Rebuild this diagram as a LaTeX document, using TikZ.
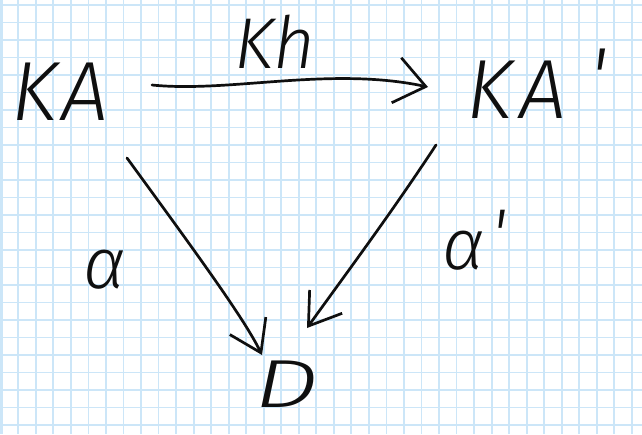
\documentclass[tikz,border=0pt]{standalone}
\usepackage{fontspec}
\newfontfamily\handfont{Fira Sans}[UprightFont={* Light}, ItalicFont={* Light Italic}]
\usetikzlibrary{arrows.meta}
\definecolor{gridblue}{RGB}{204,230,248}
\definecolor{ink}{RGB}{15,15,15}
\begin{document}
\begin{tikzpicture}[x=1pt,y=-1pt,
  gridline/.style={draw=gridblue, line width=1.8pt},
  big/.style={font=\handfont\itshape\fontsize{84}{84}\selectfont, text=ink, inner sep=0pt},
  mid/.style={font=\handfont\itshape\fontsize{72}{72}\selectfont, text=ink, inner sep=0pt},
  stroke/.style={draw=ink, line width=2.7pt, line cap=round, line join=round},
  barbtop/.style={-{Straight Barb[length=30pt,width=46pt,line width=2.7pt]}},
  barbdiag/.style={-{Straight Barb[length=30pt,width=40pt,line width=2.7pt]}}
]
\useasboundingbox (0,0) rectangle (642,434);
\fill[white] (0,0) rectangle (642,434);
% grid paper
\foreach \i in {0,...,35} \draw[gridline] ({18.3+17.53*\i},0) -- ({18.3+17.53*\i},434);
\foreach \j in {0,...,24} \draw[gridline] (0,{5+17.5*\j}) -- (642,{5+17.5*\j});
\draw[gridline, line width=3pt] (1.5,0) -- (1.5,434);

% objects
\node[big] (KA)  at (60,92)  {K\kern4pt A};
\node[mid] (Kh)  at (275,42) {Kh};
\node[big, anchor=west] (KAp) at (466,84) {K\kern8pt A\kern22pt\raisebox{12pt}{'}};
\node[mid] (al)  at (105,270) {α};
\node[mid] (alp) at (474,240) {α\kern6pt\raisebox{10pt}{'}};
\node[big, font=\handfont\itshape\fontsize{68}{68}\selectfont] (D) at (287,384) {\scalebox{1.5}[1]{D}};

% morphisms
\draw[stroke, barbtop] ([shift={(92,-7)}]KA.center)
  .. controls (230,93) and (330,66) .. ([shift={(-38,3)}]KAp.west);
\draw[stroke, barbdiag] ([shift={(67,66)}]KA.center)
  .. controls (200,258) and (245,320) .. ([shift={(-25,-29)}]D.center);
\draw[stroke, barbdiag] ([shift={(-30,61)}]KAp.west)
  .. controls (390,215) and (345,275) .. ([shift={(20,-56)}]D.center);
\end{tikzpicture}
\end{document}
